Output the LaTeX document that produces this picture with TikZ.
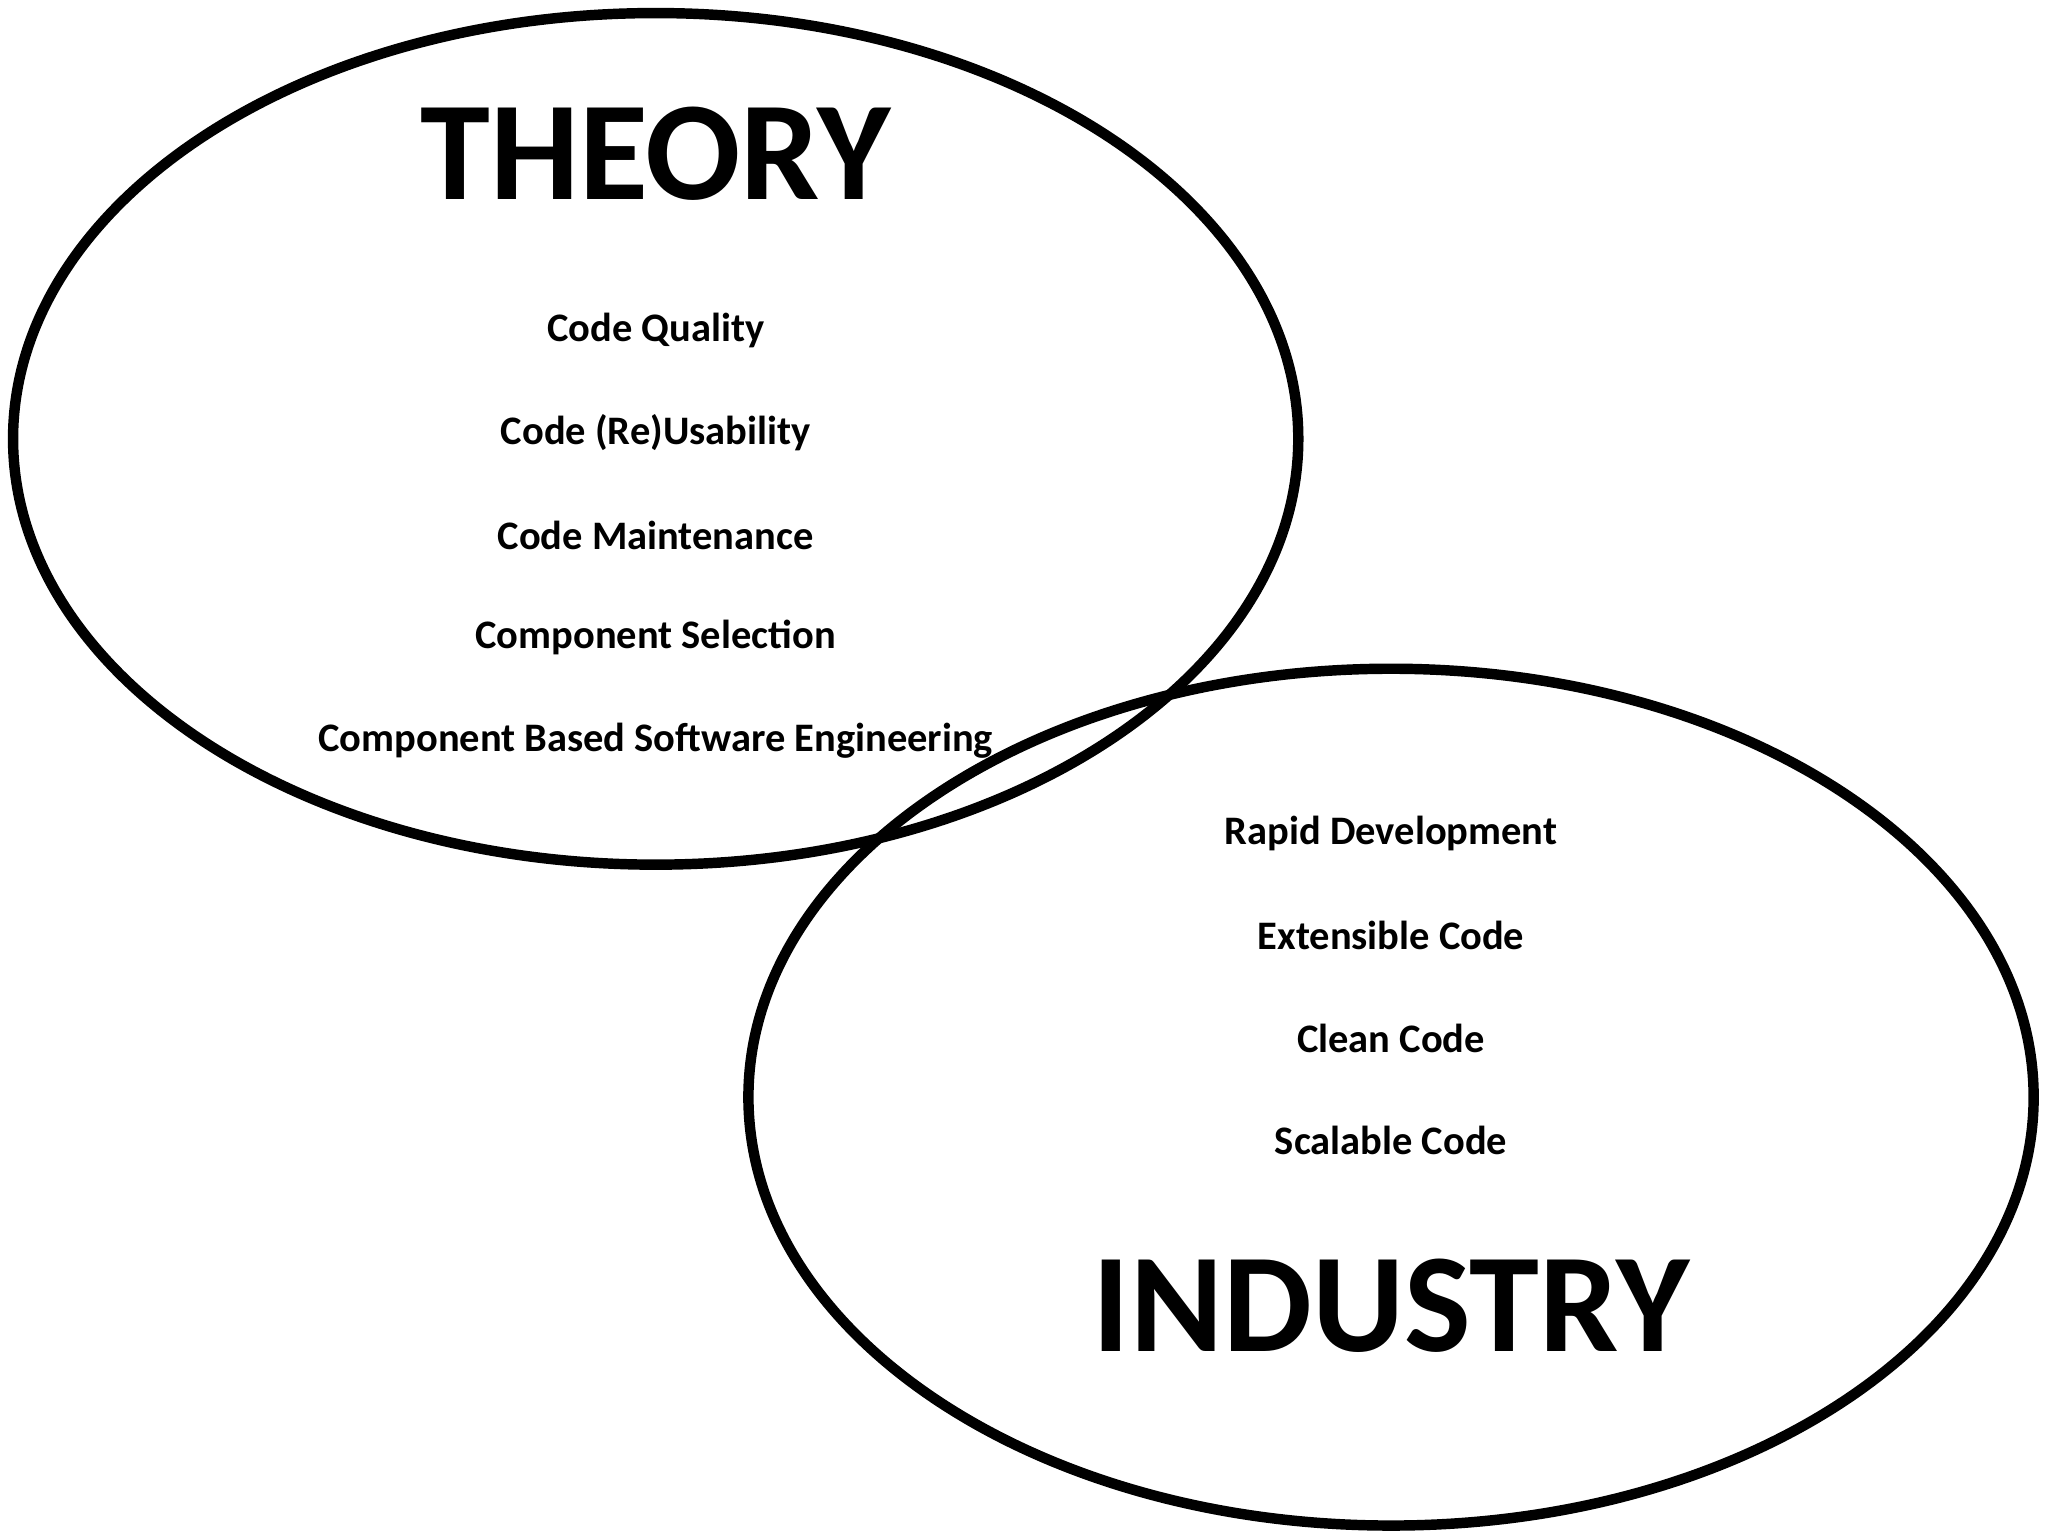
\documentclass[tikz,border=0pt]{standalone}
\usepackage{fontspec}
\setmainfont{Carlito}
\begin{document}
\begin{tikzpicture}[x=0.5pt,y=-0.5pt,
  ring/.style={draw=black,line width=4pt},
  title/.style={font=\bfseries\fontsize{54}{60}\selectfont,inner sep=0pt},
  item/.style={font=\bfseries\fontsize{15.5}{18}\selectfont,inner sep=0pt}]
\useasboundingbox (0,0) rectangle (1568,1176);
\node[item] (t1) at (502,253) {Code Quality};
\node[item] (t2) at (502,331) {Code (Re)Usability};
\node[item] (t3) at (502,410) {Code Maintenance};
\node[item] (t4) at (502,488) {Component Selection};
\node[item] (t5) at (502,567) {Component Based Software Engineering};
\node[item] (i1) at (1065,638) {Rapid Development};
\node[item] (i2) at (1065,716) {Extensible Code};
\node[item] (i3) at (1065,795) {Clean Code};
\node[item] (i4) at (1065,873) {Scalable Code};
\draw[ring] (502,336) ellipse [x radius=492, y radius=326];
\draw[ring] (1065,840) ellipse [x radius=492, y radius=328];
\node[title] (th) at (502,118) {THEORY};
\node[title] (in) at (1065,1000) {INDUSTRY};
\end{tikzpicture}
\end{document}
